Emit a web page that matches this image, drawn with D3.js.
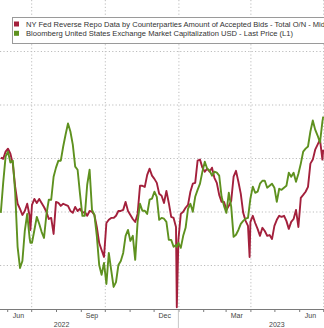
<!DOCTYPE html>
<html>
<head>
<meta charset="utf-8">
<script src="https://cdn.jsdelivr.net/npm/d3@7"></script>
<style>
  html, body { margin: 0; padding: 0; background: #fff; }
  svg { display: block; }
</style>
</head>
<body>
<svg id="chart" width="324" height="328"></svg>
<script>
const dates = [
  "2022-05-24","2022-05-27","2022-05-30","2022-06-02","2022-06-05","2022-06-08","2022-06-11","2022-06-14","2022-06-17","2022-06-20",
  "2022-06-23","2022-06-26","2022-06-29","2022-06-30","2022-07-02","2022-07-05","2022-07-08","2022-07-11","2022-07-14","2022-07-17",
  "2022-07-20","2022-07-23","2022-07-26","2022-07-29","2022-08-01","2022-08-04","2022-08-07","2022-08-10","2022-08-13","2022-08-16",
  "2022-08-19","2022-08-22","2022-08-25","2022-08-28","2022-08-31","2022-09-03","2022-09-06","2022-09-09","2022-09-12","2022-09-15",
  "2022-09-18","2022-09-21","2022-09-24","2022-09-27","2022-09-30","2022-10-03","2022-10-06","2022-10-09","2022-10-12","2022-10-15",
  "2022-10-18","2022-10-21","2022-10-24","2022-10-27","2022-10-30","2022-11-02","2022-11-05","2022-11-08","2022-11-11","2022-11-14",
  "2022-11-17","2022-11-20","2022-11-23","2022-11-26","2022-11-29","2022-12-02","2022-12-05","2022-12-08","2022-12-11","2022-12-14",
  "2022-12-17","2022-12-20","2022-12-23","2022-12-26","2022-12-29","2022-12-30","2023-01-01","2023-01-04","2023-01-07","2023-01-10",
  "2023-01-13","2023-01-16","2023-01-19","2023-01-22","2023-01-25","2023-01-28","2023-01-31","2023-02-03","2023-02-06","2023-02-09",
  "2023-02-12","2023-02-15","2023-02-18","2023-02-21","2023-02-24","2023-02-27","2023-03-02","2023-03-05","2023-03-08","2023-03-11",
  "2023-03-14","2023-03-17","2023-03-20","2023-03-23","2023-03-26","2023-03-29","2023-03-31","2023-04-01","2023-04-04","2023-04-07",
  "2023-04-10","2023-04-13","2023-04-16","2023-04-19","2023-04-22","2023-04-25","2023-04-28","2023-05-01","2023-05-04","2023-05-07",
  "2023-05-10","2023-05-13","2023-05-16","2023-05-19","2023-05-22","2023-05-25","2023-05-28","2023-05-31","2023-06-03","2023-06-06",
  "2023-06-09","2023-06-12","2023-06-15","2023-06-18","2023-06-21","2023-06-24","2023-06-27","2023-06-30","2023-07-01"
];

// NY Fed reverse repo, accepted bids ($bn) - plotted on an inverted right axis
const reverseRepo = [
  1999,2003,1976,1965,1984,2021,2108,2171,2190,2213,
  2198,2171,2216,2269,2175,2153,2168,2153,2168,2183,
  2201,2228,2224,2284,2164,2168,2179,2171,2175,2179,
  2198,2205,2183,2198,2190,2205,2201,2216,2198,2201,
  2213,2258,2318,2344,2370,2243,2231,2224,2224,2216,
  2198,2198,2194,2164,2198,2213,2228,2239,2209,2104,
  2104,2108,2063,2040,2066,2078,2093,2134,2141,2168,
  2123,2168,2220,2224,2258,2558,2306,2209,2201,2186,
  2175,2126,2096,2093,2010,2006,2036,2051,2040,2051,
  2036,2074,2093,2138,2164,2164,2194,2179,2160,2070,
  2048,2089,2134,2205,2235,2254,2370,2239,2216,2243,
  2265,2291,2261,2273,2291,2288,2303,2254,2231,2216,
  2220,2216,2235,2265,2239,2228,2194,2258,2149,2138,
  2126,2108,2021,2006,1969,1950,1931,2006,1969
];

// Bloomberg US exchange market capitalization ($tn)
const marketCap = [
  37.95,39.08,40.05,40.24,39.83,39.90,38.70,36.68,35.89,36.15,
  37.28,37.91,37.01,36.83,36.83,37.31,37.80,37.54,37.24,37.01,
  37.88,38.44,38.44,39.30,39.64,39.90,39.90,40.43,40.88,41.29,
  40.99,40.50,39.68,39.56,38.66,37.84,37.84,39.00,39.56,38.06,
  37.88,37.09,36.00,35.63,36.08,35.29,36.45,35.81,35.18,35.36,
  36.00,36.15,36.45,37.09,37.31,36.90,37.09,36.19,37.61,38.29,
  38.03,38.03,37.91,38.44,38.48,38.74,38.55,37.69,37.76,37.73,
  37.61,36.94,36.94,36.68,36.75,36.68,36.83,36.64,37.09,37.39,
  38.10,38.29,37.99,38.55,38.81,39.04,39.49,39.86,39.60,39.53,
  39.34,39.49,39.45,39.34,38.55,38.21,37.95,38.70,38.18,37.05,
  37.13,37.31,37.54,37.65,37.73,37.76,38.25,38.48,38.93,38.70,
  38.74,39.04,39.15,39.15,38.89,38.96,39.04,38.89,38.36,38.85,
  38.81,38.89,38.96,39.45,39.30,39.45,39.11,39.41,39.79,40.24,
  40.35,40.43,40.99,41.40,41.06,40.84,40.58,41.36,41.55
];

const seriesNames = [
  "NY Fed Reverse Repo Data by Counterparties Amount of Accepted Bids - Total O/N - Mid",
  "Bloomberg United States Exchange Market Capitalization USD - Last Price (L1)"
];
const seriesColors = ["#a3203c", "#5e911f"];

const gridValues = [36, 38, 40, 42, 44];
const monthLabels = ["Jun", "Sep", "Dec", "Mar", "Jun"];
const monthLabelDates = ["2022-06-15", "2022-09-15", "2022-12-15", "2023-03-15", "2023-06-15"];
const yearLabels = ["2022", "2023"];
const yearLabelDates = ["2022-08-08", "2023-05-04"];
const yearBoundary = "2023-01-01";

const W = 324, H = 328;
const axisY = 309;
const parse = d3.utcParse("%Y-%m-%d");

const x = d3.scaleUtc()
  .domain([parse("2022-05-23"), parse("2023-07-02")])
  .range([0, W]);
const yCap = d3.scaleLinear().domain([36, 44]).range([265, 51]);
const yRrp = d3.scaleLinear().domain([2400, 1600]).range([265, 51]);

const svg = d3.select("#chart");

// horizontal dotted grid
const gy = svg.append("g")
  .call(d3.axisLeft(yCap).tickValues(gridValues).tickSize(-W).tickFormat(""));
gy.select(".domain").remove();
gy.selectAll("line")
  .attr("stroke", "#bdbdbd").attr("stroke-width", 1).attr("stroke-dasharray", "1.2,2.2");

// vertical dotted grid at quarter starts
const gx = svg.append("g")
  .call(d3.axisBottom(x).ticks(d3.utcMonth.every(3)).tickSize(axisY).tickFormat(""));
gx.select(".domain").remove();
gx.selectAll("line")
  .attr("stroke", "#bdbdbd").attr("stroke-width", 1).attr("stroke-dasharray", "1.2,2.2");

// lines
const pts = dates.map((d, i) => ({ date: parse(d), rrp: reverseRepo[i], cap: marketCap[i] }));
const lineRrp = d3.line().x(d => x(d.date)).y(d => yRrp(d.rrp));
const lineCap = d3.line().x(d => x(d.date)).y(d => yCap(d.cap));

svg.append("path").datum(pts)
  .attr("d", lineRrp).attr("fill", "none")
  .attr("stroke", seriesColors[0]).attr("stroke-width", 1.9).attr("stroke-linejoin", "round");
svg.append("path").datum(pts)
  .attr("d", lineCap).attr("fill", "none")
  .attr("stroke", seriesColors[1]).attr("stroke-width", 1.9).attr("stroke-linejoin", "round");

// bottom axis with monthly ticks
const ax = svg.append("g")
  .attr("transform", `translate(0,${axisY})`)
  .call(d3.axisBottom(x).ticks(d3.utcMonth.every(1)).tickSize(3).tickFormat(""));
ax.select(".domain").attr("stroke", "#7a7a7a").attr("d", `M0,0.5H${W}`);
ax.selectAll(".tick line").attr("stroke", "#7a7a7a");

// year boundary
svg.append("line")
  .attr("x1", x(parse(yearBoundary))).attr("x2", x(parse(yearBoundary)))
  .attr("y1", axisY + 1).attr("y2", H)
  .attr("stroke", "#c8c8c8").attr("stroke-width", 1);

// month labels
svg.append("g").selectAll("text")
  .data(monthLabels)
  .join("text")
  .attr("x", (d, i) => x(parse(monthLabelDates[i])))
  .attr("y", 317.5)
  .attr("text-anchor", "middle")
  .attr("font-family", "Liberation Sans, Arial, sans-serif")
  .attr("font-size", 7)
  .attr("fill", "#444")
  .text(d => d);

// year labels
svg.append("g").selectAll("text")
  .data(yearLabels)
  .join("text")
  .attr("x", (d, i) => x(parse(yearLabelDates[i])))
  .attr("y", 326.5)
  .attr("text-anchor", "middle")
  .attr("font-family", "Liberation Sans, Arial, sans-serif")
  .attr("font-size", 7)
  .attr("fill", "#444")
  .text(d => d);

// legend
const lg = svg.append("g");
lg.append("rect")
  .attr("x", 12.5).attr("y", 17.5).attr("width", 330).attr("height", 26)
  .attr("fill", "#fff").attr("stroke", "#9a9a9a").attr("stroke-width", 1);
const legendLengths = [299, 267];
seriesNames.forEach((name, i) => {
  const yy = 21.5 + i * 9.3;
  lg.append("rect")
    .attr("x", 14).attr("y", yy).attr("width", 5).attr("height", 5)
    .attr("fill", seriesColors[i]);
  lg.append("text")
    .attr("x", 26).attr("y", yy + 5.6)
    .attr("font-family", "Liberation Sans, Arial, sans-serif")
    .attr("font-size", 7)
    .attr("fill", "#333")
    .attr("textLength", legendLengths[i])
    .attr("lengthAdjust", "spacingAndGlyphs")
    .text(name);
});
</script>
</body>
</html>
